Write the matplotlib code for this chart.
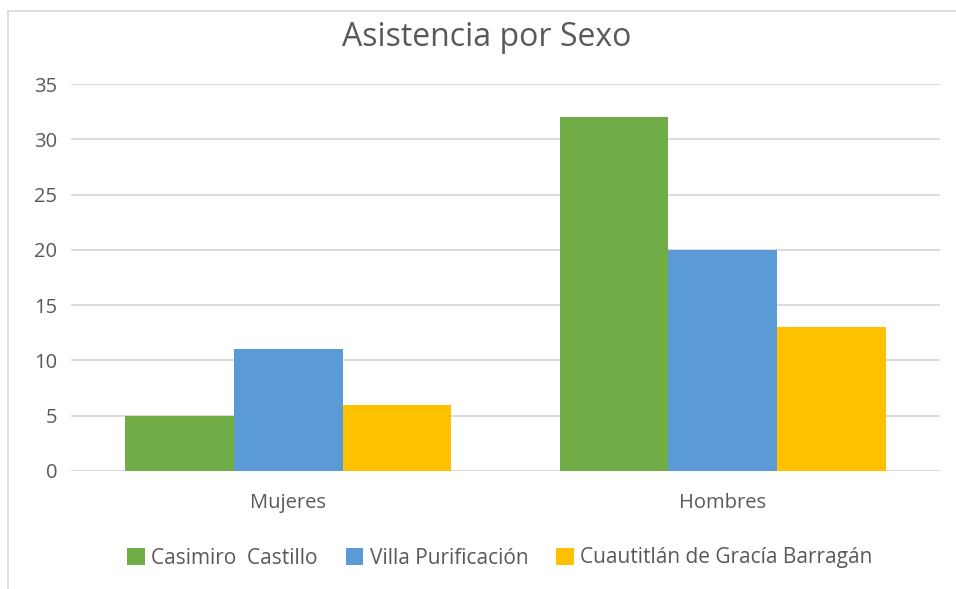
import matplotlib.pyplot as plt
from matplotlib.lines import Line2D
import numpy as np

plt.rcParams['font.family'] = ['Open Sans', 'DejaVu Sans']

categories = ['Mujeres', 'Hombres']
series_names = ['Casimiro  Castillo', 'Villa Purificación', 'Cuautitlán de Gracía Barragán']
casimiro = [5, 32]
villa = [11, 20]
cuautitlan = [6, 13]
colors = ['#70AD47', '#5B9BD5', '#FFC000']
yticks = [0, 5, 10, 15, 20, 25, 30, 35]

text_color = '#595959'
grid_color = '#D9D9D9'

fig = plt.figure(figsize=(9.56, 5.89), dpi=100)
ax = fig.add_axes([71 / 956, 1 - 471 / 589, 869 / 956, 387 / 589])

x = np.arange(len(categories))
width = 0.25
for i, (vals, name) in enumerate(zip([casimiro, villa, cuautitlan], series_names)):
    ax.bar(x + (i - 1) * width, vals, width, color=colors[i], label=name, zorder=3)

ax.set_xlim(-0.5, 1.5)
ax.set_ylim(0, 35)
ax.set_yticks(yticks)
ax.set_xticks(x)
ax.set_xticklabels(categories)
ax.yaxis.grid(True, color=grid_color, lw=1.3, zorder=0)
for s in ax.spines.values():
    s.set_visible(False)
ax.tick_params(length=0, colors=text_color, labelsize=14.5)
ax.tick_params(axis='y', pad=10)
ax.tick_params(axis='x', pad=16)
ax.axhline(0, color=grid_color, lw=1.3, zorder=2)

fig.text(487 / 956, 1 - 37 / 589, 'Asistencia por Sexo', ha='center', va='center',
         fontsize=23, color=text_color)

fig.legend(loc='center', bbox_to_anchor=(500 / 956, 1 - 558 / 589), ncol=3, frameon=False,
           fontsize=15, labelcolor=text_color, handlelength=0.85, handleheight=0.85,
           handletextpad=0.3, columnspacing=1.35)

# chart border (top and left edges visible)
fig.add_artist(Line2D([8 / 956, 8 / 956], [0, 1 - 11 / 589], color='#D9D9D9', lw=1.2,
                      transform=fig.transFigure))
fig.add_artist(Line2D([8 / 956, 1], [1 - 11 / 589, 1 - 11 / 589], color='#D9D9D9', lw=1.2,
                      transform=fig.transFigure))

fig.savefig('out.png', dpi=100)
